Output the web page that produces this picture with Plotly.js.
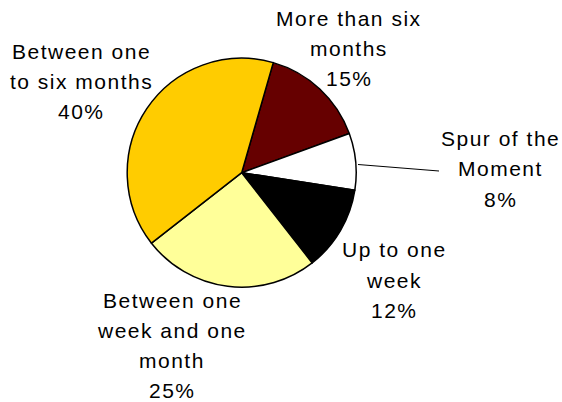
<!DOCTYPE html>
<html>
<head>
<meta charset="utf-8">
<script src="https://cdn.plot.ly/plotly-3.0.1.min.js"></script>
<style>
  html, body { margin: 0; padding: 0; background: #fff; }
  #chart { width: 562px; height: 402px; }
  .annotation-text { letter-spacing: 1.5px; }
</style>
</head>
<body>
<div id="chart"></div>
<script>
// ---- data ----
const categories = [
  "More than six months",
  "Spur of the Moment",
  "Up to one week",
  "Between one week and one month",
  "Between one to six months"
];
const values = [15, 8, 12, 25, 40];
const colors = ["#660000", "#FFFFFF", "#000000", "#FFFF99", "#FFCC00"];
// label text lines (the % line is appended from values)
const labelLines = [
  ["More than six", "months"],
  ["Spur of the", "Moment"],
  ["Up to one", "week"],
  ["Between one", "week and one", "month"],
  ["Between one", "to six months"]
];

// ---- layout helpers (pixel positions of label blocks) ----
const W = 562, H = 402;
const labelPos = [ // [center x, first line middle y] in px
  [349, 18],
  [500, 139],
  [394, 250],
  [172, 300],
  [81, 51]
];
const lineStep = 30;
const px = x => x / W;
const py = y => 1 - y / H;

const annotations = [];
categories.forEach((c, i) => {
  const lines = labelLines[i].concat([values[i] + "%"]);
  lines.forEach((t, j) => {
    annotations.push({
      xref: "paper", yref: "paper",
      x: px(labelPos[i][0]), y: py(labelPos[i][1] + j * lineStep),
      xanchor: "center", yanchor: "middle",
      text: t, showarrow: false,
      font: { family: "Liberation Sans, Arial, sans-serif", size: 21, color: "#000" }
    });
  });
});

const cx = 241.7, cy = 172.7, r = 114.5;

const trace = {
  type: "pie",
  labels: categories,
  values: values,
  sort: false,
  direction: "clockwise",
  rotation: 16,
  textinfo: "none",
  hoverinfo: "label+percent",
  marker: { colors: colors, line: { color: "#000", width: 1.5 } },
  domain: { x: [px(cx - r), px(cx + r)], y: [py(cy + r), py(cy - r)] }
};

const layout = {
  width: W, height: H,
  margin: { l: 0, r: 0, t: 0, b: 0 },
  paper_bgcolor: "#fff",
  showlegend: false,
  annotations: annotations,
  shapes: [{
    type: "line", xref: "paper", yref: "paper",
    x0: px(358), y0: py(164.5), x1: px(439), y1: py(171),
    line: { color: "#000", width: 1 }
  }]
};

Plotly.newPlot("chart", [trace], layout, { staticPlot: true });
</script>
</body>
</html>
